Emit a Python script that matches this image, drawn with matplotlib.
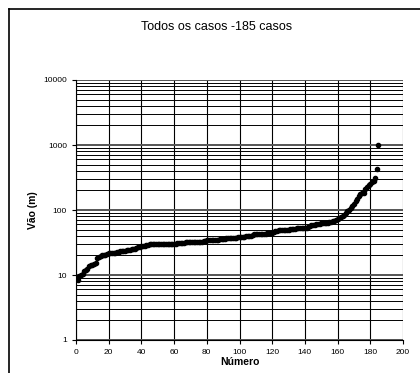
import matplotlib
matplotlib.use("Agg")
import matplotlib.pyplot as plt
from matplotlib.lines import Line2D
from matplotlib.ticker import LogLocator, FixedLocator, NullFormatter
import numpy as np

plt.rcParams['font.family'] = ['Liberation Sans', 'DejaVu Sans']

# Vão de cada caso, ordenado
vaos = [
    8.5, 9.5, 10, 10.5, 11.5, 12, 12.5, 14, 14.5, 14.5,
    15, 15.5, 18, 19, 19.5, 20, 20, 20.5, 21, 21.5,
    21.5, 22, 22, 22, 22.5, 22.5, 23, 23, 23.5, 23.5,
    24, 24, 24.5, 25, 25, 25.5, 26, 26.5, 27, 27.5,
    28, 28, 28.5, 29, 29.5, 30, 30, 30, 30, 30,
    30, 30, 30, 30, 30, 30, 30, 30, 30, 30,
    30.5, 31, 31, 31, 31.5, 31.5, 32, 32, 32, 32,
    32, 32, 32, 32, 32, 32.5, 32.5, 33, 33, 34,
    34.5, 35, 35, 35, 35, 35, 35, 35.5, 36, 36,
    36, 36.5, 37, 37, 37, 37, 37.5, 37.5, 38, 38,
    38, 38.5, 39, 39.5, 40, 40, 40.5, 41, 42, 42,
    42, 42, 42.5, 43, 43, 43, 43.5, 44, 44, 45,
    46, 47, 48, 49, 49, 49.5, 49.5, 50, 50, 50,
    50.5, 51, 51, 51.5, 52, 52, 52.5, 53, 53, 53,
    53.5, 54, 57, 58, 59, 59.5, 60, 60.5, 61, 62,
    62.5, 63, 63.5, 64, 65, 66, 67, 68, 70, 72,
    74, 77, 80, 85, 90, 95, 100, 108, 115, 125,
    140, 150, 165, 175, 180, 185, 210, 225, 240, 255,
    265, 280, 310, 420, 1000,
]
numeros = list(range(1, len(vaos) + 1))

x_ticks = [0, 20, 40, 60, 80, 100, 120, 140, 160, 180, 200]
y_ticks = [1, 10, 100, 1000, 10000]

fig = plt.figure(figsize=(4.2, 3.73), dpi=100)

# moldura do gráfico (só lados esquerdo e de cima ficam visíveis)
fx = 8.5 / 420
fy = 1 - 9 / 373
fig.lines.append(Line2D([fx, fx], [0, fy], transform=fig.transFigure,
                        color='black', linewidth=1.2))
fig.lines.append(Line2D([fx, 1], [fy, fy], transform=fig.transFigure,
                        color='black', linewidth=1.2))

ax = fig.add_axes([76 / 420, 1 - 340 / 373, (403 - 76) / 420, (340 - 80) / 373])
ax.set_yscale('log')
ax.set_xlim(0, 200)
ax.set_ylim(1, 10000)

# grid: vertical every 20, horizontal at every log step
ax.xaxis.set_major_locator(FixedLocator(x_ticks))
ax.yaxis.set_major_locator(FixedLocator(y_ticks))
ax.yaxis.set_minor_locator(LogLocator(base=10, subs=np.arange(2, 10), numticks=20))
ax.yaxis.set_minor_formatter(NullFormatter())
ax.set_yticklabels([str(t) for t in y_ticks])
ax.grid(True, which='major', axis='x', color='black', linewidth=0.8)
ax.grid(True, which='major', axis='y', color='#555555', linewidth=1.4)
ax.grid(True, which='minor', axis='y', color='black', linewidth=0.7)

ax.plot(numeros, vaos, 'o', color='black', markersize=3.0, zorder=3)

for s in ['top', 'right']:
    ax.spines[s].set_visible(False)
ax.spines['left'].set_linewidth(0.8)
ax.spines['bottom'].set_linewidth(0.8)
ax.tick_params(axis='both', which='major', labelsize=6, length=3, width=0.8)
ax.tick_params(axis='y', which='minor', length=0)

ax.set_xlabel('Número', fontsize=7.5, fontweight='bold', labelpad=1)
ax.set_ylabel('Vão (m)', fontsize=7.5, fontweight='bold', labelpad=4)
fig.text(217 / 420, 1 - 27 / 373, 'Todos os casos -185 casos',
         ha='center', va='center', fontsize=9)

fig.savefig('out.png', dpi=100)
